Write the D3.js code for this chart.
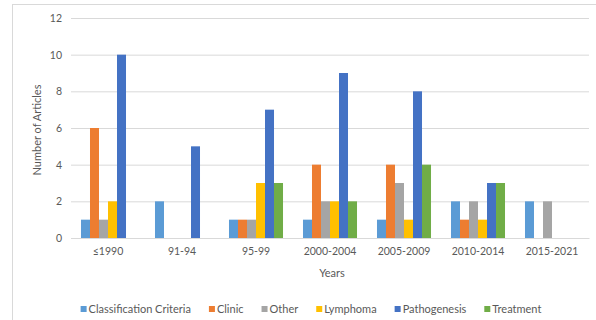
<!DOCTYPE html>
<html><head><meta charset="utf-8">
<script src="https://cdn.jsdelivr.net/npm/d3@7"></script>
<style>
html,body{margin:0;padding:0;background:#fff;}
svg{display:block;}
text{font-family:Lato,"Open Sans",sans-serif;fill:#595959;}
</style></head>
<body>
<svg id="chart" width="596" height="320"></svg>
<script>
const categories = ["≤1990","91-94","95-99","2000-2004","2005-2009","2010-2014","2015-2021"];
const seriesNames = ["Classification Criteria","Clinic","Other","Lymphoma","Pathogenesis","Treatment"];
const seriesColors = ["#5B9BD5","#ED7D31","#A5A5A5","#FFC000","#4472C4","#70AD47"];
const classificationCriteria = [1,2,1,1,1,2,2];
const clinic = [6,0,1,4,4,1,0];
const other = [1,0,1,2,3,2,2];
const lymphoma = [2,0,3,2,1,1,0];
const pathogenesis = [10,5,7,9,8,3,0];
const treatment = [0,0,3,2,4,3,0];
const yTicks = [0,2,4,6,8,10,12];
const yTitle = "Number of Articles";
const xTitle = "Years";

const seriesValues = [classificationCriteria, clinic, other, lymphoma, pathogenesis, treatment];

const svg = d3.select("#chart");
const W = 596, H = 320;
const plot = {left:71, right:589, top:18, bottom:238};

// chart frame
svg.append("rect").attr("x",12.5).attr("y",4.5).attr("width",W).attr("height",H)
  .attr("fill","none").attr("stroke","#d9d9d9").attr("stroke-width",1);

const x = d3.scaleBand().domain(categories).range([plot.left, plot.right]).paddingInner(0.27).paddingOuter(0.135);
const xs = d3.scaleBand().domain(seriesNames).range([0, x.bandwidth()]);
const y = d3.scaleLinear().domain([0,12]).range([plot.bottom, plot.top]);

// gridlines
const yAxis = d3.axisLeft(y).tickValues(yTicks).tickSize(-(plot.right-plot.left)).tickPadding(9);
const gy = svg.append("g").attr("transform",`translate(${plot.left},0)`).call(yAxis);
gy.select(".domain").remove();
gy.selectAll(".tick line").attr("stroke","#d9d9d9").attr("stroke-width",1);
gy.selectAll(".tick text").attr("font-size","10.5px").attr("fill","#595959");

// bars
const groups = svg.append("g").selectAll("g").data(categories).join("g")
  .attr("transform", d => `translate(${x(d)},0)`);
groups.selectAll("rect").data((c,i) => seriesNames.map((s,j) => ({s, v: seriesValues[j][i], color: seriesColors[j]})))
  .join("rect")
  .attr("x", d => xs(d.s))
  .attr("width", xs.bandwidth())
  .attr("y", d => y(d.v))
  .attr("height", d => y(0) - y(d.v))
  .attr("fill", d => d.color);

// x axis
const xAxis = d3.axisBottom(x).tickSize(0).tickPadding(10);
const gx = svg.append("g").attr("transform",`translate(0,${plot.bottom})`).call(xAxis);
gx.select(".domain").attr("stroke","#d9d9d9");
gx.selectAll(".tick text").attr("font-size","10.5px").attr("fill","#595959");

// titles
svg.append("text").attr("x",(plot.left+plot.right)/2+2).attr("y",277)
  .attr("text-anchor","middle").attr("font-size","11px").text(xTitle);
svg.append("text").attr("transform",`translate(41,${(plot.top+plot.bottom)/2+2}) rotate(-90)`)
  .attr("text-anchor","middle").attr("font-size","11px").text(yTitle);

// legend
const lg = svg.append("g").attr("transform","translate(0,309)");
const items = [];
seriesNames.forEach((s,i) => {
  const g = lg.append("g");
  g.append("rect").attr("x",0).attr("y",-3).attr("width",6).attr("height",6).attr("fill",seriesColors[i]);
  const t = g.append("text").attr("x",8).attr("y",0).attr("dy","0.35em").attr("font-size","11px").text(s);
  const w = 8 + t.node().getComputedTextLength();
  items.push({g, w});
});
const gap = 18;
const total = items.reduce((a,b)=>a+b.w,0) + gap*(items.length-1);
let start = 311 - total/2;
items.forEach(it => { it.g.attr("transform",`translate(${start},0)`); start += it.w + gap; });
</script>
</body></html>
